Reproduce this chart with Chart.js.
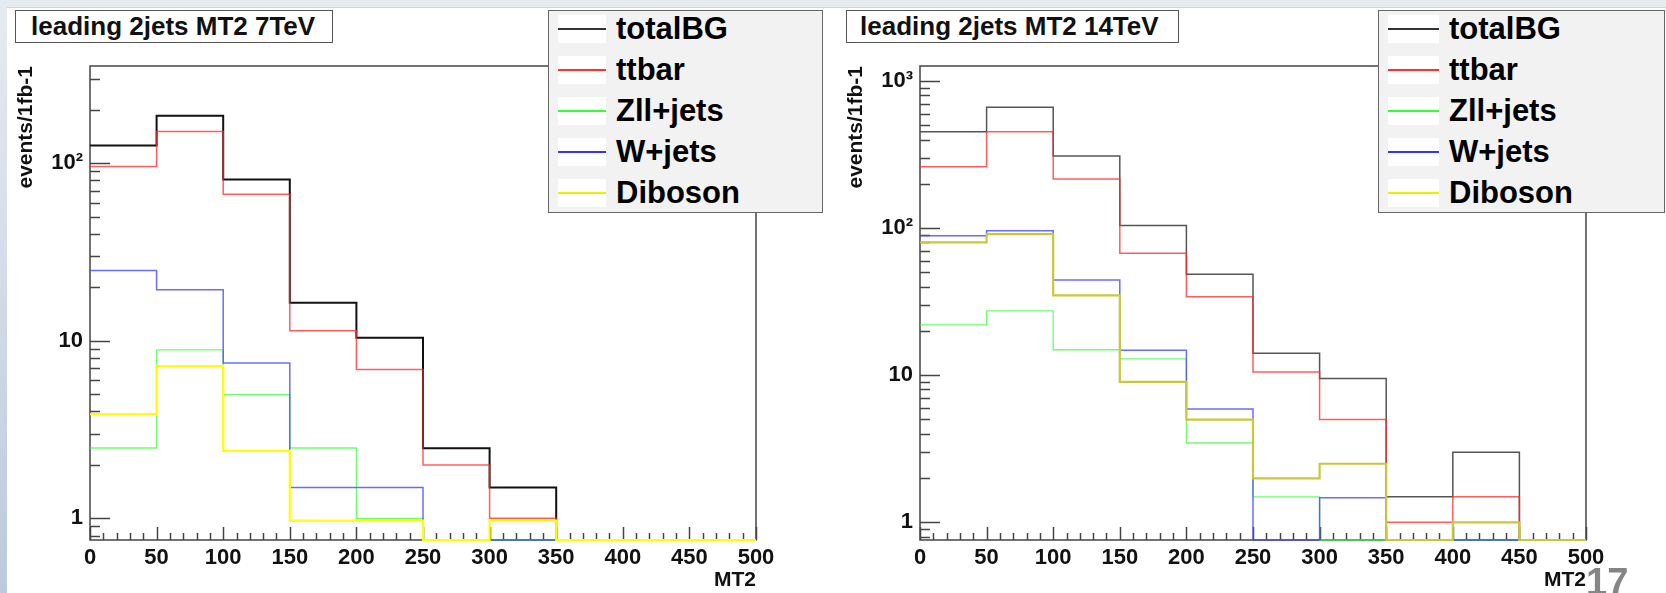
<!DOCTYPE html>
<html>
<head>
<meta charset="utf-8">
<script src="https://cdn.jsdelivr.net/npm/chart.js@4.4.1/dist/chart.umd.min.js"></script>
<style>
  html, body { margin: 0; padding: 0; }
  body {
    width: 1666px; height: 593px; overflow: hidden; position: relative;
    background: linear-gradient(to bottom, #e6ebf2, #bccadd);
    font-family: "Liberation Sans", Arial, Helvetica, sans-serif;
  }
  #sheet { position: absolute; left: 7px; top: 7px; right: 0; bottom: 0; background: #fff; border-top: 1px solid #d0d5dc; }
  canvas { position: absolute; top: 0; }
  #c7 { left: 0; }
  #c14 { left: 830px; }
  .titlebox {
    position: absolute; top: 10px; height: 33px; box-sizing: border-box;
    border: 1px solid #555; background: #fff; font-weight: bold; font-size: 26px;
    line-height: 31px; color: #111; white-space: nowrap; z-index: 2;
  }
  .legend {
    position: absolute; top: 10px; height: 203px; box-sizing: border-box;
    border: 1px solid #666; background: #f2f2f2; z-index: 3;
  }
  .legend .swatch { position: absolute; width: 48px; height: 28px; background: #fff; }
  .legend .swatch i { position: absolute; left: 0; right: 0; top: 13px; height: 1.5px; }
  .legend .label { position: absolute; font-weight: bold; font-size: 31px; line-height: 36px; color: #000; white-space: nowrap; }
  #page { position: absolute; left: 1586px; top: 563px; font-size: 38px; line-height: 38px; font-weight: bold; color: #858585; z-index: 4; }
</style>
</head>
<body>
<div id="sheet"></div>
<canvas id="c7" width="830" height="593"></canvas>
<canvas id="c14" width="836" height="593"></canvas>
<div class="titlebox" style="left:15px;width:318px;padding-left:15px">leading 2jets MT2 7TeV</div>
<div class="titlebox" style="left:846px;width:333px;padding-left:13px">leading 2jets MT2 14TeV</div>
<div class="legend" id="leg7" style="left:548px;width:275px"></div>
<div class="legend" id="leg14" style="left:1378px;width:287px"></div>
<div id="page">17</div>
<script>
// MT2 bin edges (GeV)
const binEdges = [0, 50, 100, 150, 200, 250, 300, 350, 400, 450, 500];
const seriesNames = ['totalBG', 'ttbar', 'Zll+jets', 'W+jets', 'Diboson'];

// 7 TeV, events / 1fb-1 per bin
const total7 = [126, 185, 81, 16.4, 10.4, 2.48, 1.49, 0, 0, 0];
const ttbar7 = [96, 151, 67, 11.4, 6.9, 2.0, 1.0, 0, 0, 0];
const zll7 = [2.49, 8.9, 4.98, 2.49, 1.0, 0, 0, 0, 0, 0];
const wjets7 = [24.9, 19.4, 7.5, 1.49, 1.49, 0, 0, 0, 0, 0];
const diboson7 = [3.86, 7.2, 2.4, 0.97, 0.97, 0, 0.97, 0, 0, 0];

// 14 TeV
const total14 = [452, 662, 309, 104, 48.5, 14.1, 9.5, 1.49, 2.99, 0];
const ttbar14 = [261, 452, 216, 67.5, 34.2, 10.5, 5.0, 1.0, 1.49, 0];
const zll14 = [22.0, 27.4, 14.9, 12.9, 3.46, 1.49, 0, 0, 0, 0];
const wjets14 = [88.7, 96, 44.4, 14.8, 5.9, 0, 1.47, 0, 0, 0];
const diboson14 = [80, 91, 34.9, 9.0, 4.99, 1.99, 2.5, 0, 1.0, 0];

const xTicks = [0, 50, 100, 150, 200, 250, 300, 350, 400, 450, 500];
const yTicks7 = [1, 10, 100];
const yTicks14 = [1, 10, 100, 1000];
const yLabels = { 1: '1', 10: '10', 100: '10\u00b2', 1000: '10\u00b3' };

const FONT = '"Liberation Sans", Arial, Helvetica, sans-serif';

// histogram -> stepped points; empty bins sit on the frame bottom like ROOT does
function histPoints(vals, ymin) {
  const pts = vals.map((v, i) => ({ x: binEdges[i], y: v > 0 ? v : ymin }));
  pts.push({ x: binEdges[binEdges.length - 1], y: pts[pts.length - 1].y });
  return pts;
}

// ROOT style frame with inward tick marks
const rootFrame = {
  id: 'rootFrame',
  beforeDatasetsDraw(chart) {
    const { ctx, chartArea: a, scales: { x, y } } = chart;
    ctx.save();
    ctx.strokeStyle = '#444';
    ctx.lineWidth = 1.5;
    ctx.strokeRect(a.left, a.top, a.right - a.left, a.bottom - a.top);
    ctx.beginPath();
    for (let v = 0; v <= 500; v += 10) {
      const px = Math.round(x.getPixelForValue(v)) + 0.5;
      const len = v % 50 === 0 ? 13 : 7;
      ctx.moveTo(px, a.bottom);
      ctx.lineTo(px, a.bottom - len);
    }
    for (let d = 0.1; d <= 1000; d *= 10) {
      for (let m = 1; m <= 9; m++) {
        const v = m * d;
        if (v < y.min || v > y.max) continue;
        const py = Math.round(y.getPixelForValue(v)) + 0.5;
        ctx.moveTo(a.left, py);
        ctx.lineTo(a.left + (m === 1 ? 20 : 10), py);
      }
    }
    ctx.stroke();
    ctx.restore();
  }
};

function makeChart(id, cfg) {
  const ds = (label, vals, color, width, order) => ({
    label, data: histPoints(vals, cfg.ymin), borderColor: color, borderWidth: width,
    stepped: 'before', pointRadius: 0, fill: false, order, clip: 4,
    borderJoinStyle: 'miter', borderCapStyle: 'butt'
  });
  return new Chart(document.getElementById(id), {
    type: 'line',
    data: {
      datasets: [
        ds(seriesNames[0], cfg.series[0], cfg.colors[0], cfg.widths[0], 5),
        ds(seriesNames[1], cfg.series[1], cfg.colors[1], cfg.widths[1], 4),
        ds(seriesNames[2], cfg.series[2], cfg.colors[2], cfg.widths[2], 3),
        ds(seriesNames[3], cfg.series[3], cfg.colors[3], cfg.widths[3], 2),
        ds(seriesNames[4], cfg.series[4], cfg.colors[4], cfg.widths[4], 1)
      ]
    },
    options: {
      responsive: false,
      animation: false,
      layout: { padding: { left: 0, top: 66, right: cfg.padRight, bottom: 0 } },
      plugins: { legend: { display: false }, tooltip: { enabled: false } },
      scales: {
        x: {
          type: 'linear', min: 0, max: 500,
          grid: { display: false, drawTicks: false },
          border: { display: false },
          afterBuildTicks: s => { s.ticks = xTicks.map(v => ({ value: v })); },
          afterFit: s => { s.height = 53; },
          ticks: { color: '#111', padding: 5, maxRotation: 0, autoSkip: false, font: { family: FONT, size: 22, weight: 'bold' } },
          title: { display: true, text: 'MT2', align: 'end', color: '#111', padding: { top: 2, bottom: 0 }, font: { family: FONT, size: 21, weight: 'bold' } }
        },
        y: {
          type: 'logarithmic', min: cfg.ymin, max: cfg.ymax,
          grid: { display: false, drawTicks: false },
          border: { display: false },
          afterBuildTicks: s => { s.ticks = cfg.yTicks.map(v => ({ value: v })); },
          afterFit: s => { s.width = 90; },
          ticks: { color: '#111', padding: 7, autoSkip: false, font: { family: FONT, size: 22, weight: 'bold' }, callback: v => yLabels[v] },
          title: { display: true, text: 'events/1fb-1', align: 'end', color: '#111', padding: { top: 14 }, font: { family: FONT, size: 21, weight: 'bold' } }
        }
      }
    },
    plugins: [rootFrame]
  });
}

makeChart('c7', {
  series: [total7, ttbar7, zll7, wjets7, diboson7],
  colors: ['#111', 'rgba(255,40,40,0.75)', 'rgba(60,255,60,0.75)', 'rgba(70,70,255,0.8)', '#ffff00'],
  widths: [2, 1.5, 1.3, 1.5, 2.2],
  ymin: 0.755, ymax: 353, yTicks: yTicks7, padRight: 74
});
makeChart('c14', {
  series: [total14, ttbar14, zll14, wjets14, diboson14],
  colors: ['#555', 'rgba(255,40,40,0.75)', 'rgba(60,255,60,0.75)', 'rgba(70,70,255,0.8)', '#c8c83a'],
  widths: [1.5, 1.5, 1.3, 1.5, 2.2],
  ymin: 0.758, ymax: 1265, yTicks: yTicks14, padRight: 80
});

// legends
function buildLegend(id, colors, swLeft, textLeft) {
  const box = document.getElementById(id);
  seriesNames.forEach((name, i) => {
    const top = 4 + i * 41;
    const sw = document.createElement('div');
    sw.className = 'swatch';
    sw.style.left = swLeft + 'px';
    sw.style.top = top + 'px';
    sw.style.width = (textLeft - swLeft - 10) + 'px';
    const line = document.createElement('i');
    line.style.background = colors[i];
    sw.appendChild(line);
    box.appendChild(sw);
    const lab = document.createElement('div');
    lab.className = 'label';
    lab.textContent = name;
    lab.style.left = textLeft + 'px';
    lab.style.top = (top - 4) + 'px';
    box.appendChild(lab);
  });
}
buildLegend('leg7', ['#333', '#ff3030', '#33ff33', '#3333ff', '#eeee00'], 9, 67);
buildLegend('leg14', ['#333', '#ff3030', '#33ff33', '#3333ff', '#eeee00'], 9, 70);
</script>
</body>
</html>
